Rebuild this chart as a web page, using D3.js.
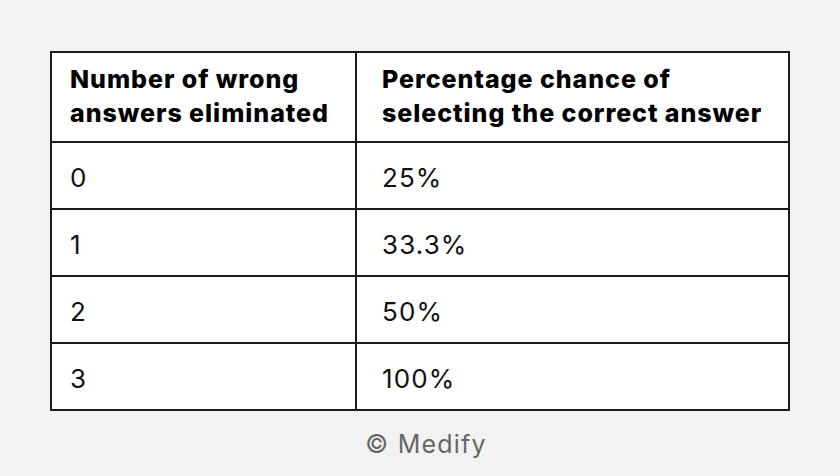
<!DOCTYPE html>
<html><head><meta charset="utf-8">
<script src="https://cdn.jsdelivr.net/npm/d3@7"></script>
<style>html,body{margin:0;padding:0;background:#f2f2f2;}</style>
</head><body>
<svg id="c" width="840" height="476"></svg>
<script>
const headers = [["Number of wrong","answers eliminated"],["Percentage chance of","selecting the correct answer"]];
const eliminated = ["0","1","2","3"];
const chance = ["25%","33.3%","50%","100%"];
const footer = "© Medify";

(function(){
const svg = d3.select("#c");
const W = 840, H = 476;
svg.append("rect").attr("width",W).attr("height",H).attr("fill","#f2f2f2");
const tLeft = 51, tRight = 789, tTop = 52, headerH = 90, rowH = 67;
const colX = d3.scaleOrdinal().domain([0,1,2]).range([tLeft, 356, tRight]);
const rowY = d3.scaleLinear().domain([0,1]).range([tTop+headerH, tTop+headerH+rowH]);
const tBottom = rowY(eliminated.length);
const g = svg.append("g");
g.append("rect").attr("x",tLeft).attr("y",tTop).attr("width",tRight-tLeft).attr("height",tBottom-tTop)
  .attr("fill","#fff").attr("stroke","#1a1a1a").attr("stroke-width",2);
g.append("line").attr("x1",colX(1)).attr("x2",colX(1)).attr("y1",tTop).attr("y2",tBottom).attr("stroke","#1a1a1a").attr("stroke-width",2);
g.selectAll(".rl").data(d3.range(eliminated.length)).join("line")
  .attr("x1",tLeft).attr("x2",tRight).attr("y1",d=>rowY(d)).attr("y2",d=>rowY(d)).attr("stroke","#1a1a1a").attr("stroke-width",2);
const font = "Inter, 'Noto Sans', sans-serif";
headers.forEach((h,i)=>{
  h.forEach((line,j)=>{
    g.append("text").attr("x",colX(i)+19+(i?7:0)).attr("y",tTop+36+j*34).text(line)
      .attr("font-family",font).attr("font-weight",800).attr("font-size",25)
      .attr("letter-spacing",0.95).attr("fill","#000");
  });
});
const rows = eliminated.map((e,i)=>[e,chance[i]]);
rows.forEach((r,i)=>{
  r.forEach((v,k)=>{
    g.append("text").attr("x",colX(k)+19+(k?7:0)).attr("y",rowY(i)+45).text(v)
      .attr("font-family",font).attr("font-size",26).attr("letter-spacing",1.1).attr("fill","#111");
  });
});
svg.append("text").attr("x",W/2+6).attr("y",453).attr("text-anchor","middle").text(footer)
  .attr("font-family",font).attr("font-size",25).attr("letter-spacing",1.2).attr("fill","#666");
})();
</script>
</body></html>
